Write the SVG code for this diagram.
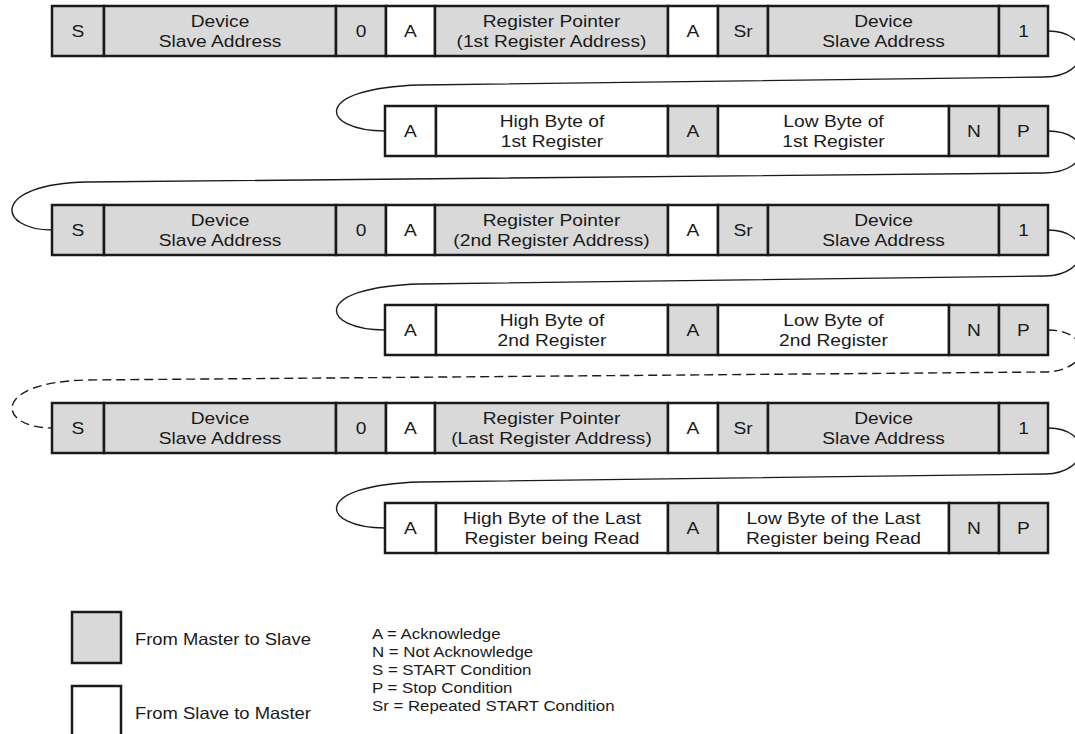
<svg xmlns="http://www.w3.org/2000/svg" width="1075" height="734" viewBox="0 0 1075 734">
<style>
.g{fill:#d9d9d9;stroke:#1a1a1a;stroke-width:2.5}
.w{fill:#ffffff;stroke:#1a1a1a;stroke-width:2.5}
text{font-family:"Liberation Sans",Arial,sans-serif;font-size:17px;fill:#1a1a1a;text-anchor:middle}
.lg{font-size:16.3px;text-anchor:start}
.ls{font-size:14.9px;text-anchor:start}
.c{fill:none;stroke:#1a1a1a;stroke-width:1.4}
.d{stroke-dasharray:9 5}
</style>
<rect width="1075" height="734" fill="#ffffff"/>
<g id="connectors">
<path class="c" d="M1048,31 C1092,31 1092,76 1045,77 L420,85 C310,88 320,131 385,131"/>
<path class="c" d="M1048,131 C1092,131 1092,172 1045,173 L87,182 C-10,184 -3,230 52,230"/>
<path class="c" d="M1048,230 C1092,230 1092,275 1045,276 L420,284 C310,287 320,330 385,330"/>
<path class="c d" d="M1048,330 C1092,330 1092,371 1045,372 L87,380 C-10,382 -3,428 52,428"/>
<path class="c" d="M1048,428 C1092,428 1092,473 1045,474 L420,482 C310,485 320,528 385,528"/>
</g>
<!-- Row 1 -->
<g id="r1-s"><rect class="g" x="52" y="6" width="52" height="50"/><text transform="matrix(1.13 0 0 1 78 0)" y="37.5">S</text></g>
<g id="r1-addr"><rect class="g" x="104" y="6" width="232" height="50"/><text transform="matrix(1.13 0 0 1 220 0)"><tspan x="0" y="26.7">Device</tspan><tspan x="0" y="47.3">Slave Address</tspan></text></g>
<g id="r1-w0"><rect class="g" x="336" y="6" width="50" height="50"/><text transform="matrix(1.13 0 0 1 361 0)" y="37.5">0</text></g>
<g id="r1-a1"><rect class="w" x="386" y="6" width="49" height="50"/><text transform="matrix(1.13 0 0 1 410.5 0)" y="37.5">A</text></g>
<g id="r1-ptr"><rect class="g" x="435" y="6" width="233" height="50"/><text transform="matrix(1.13 0 0 1 551.5 0)"><tspan x="0" y="26.7">Register Pointer</tspan><tspan x="0" y="47.3">(1st Register Address)</tspan></text></g>
<g id="r1-a2"><rect class="w" x="668" y="6" width="50" height="50"/><text transform="matrix(1.13 0 0 1 693 0)" y="37.5">A</text></g>
<g id="r1-sr"><rect class="g" x="718" y="6" width="50" height="50"/><text transform="matrix(1.13 0 0 1 743 0)" y="37.5">Sr</text></g>
<g id="r1-addr2"><rect class="g" x="768" y="6" width="231" height="50"/><text transform="matrix(1.13 0 0 1 883.5 0)"><tspan x="0" y="26.7">Device</tspan><tspan x="0" y="47.3">Slave Address</tspan></text></g>
<g id="r1-r1"><rect class="g" x="999" y="6" width="49" height="50"/><text transform="matrix(1.13 0 0 1 1023.5 0)" y="37.5">1</text></g>
<!-- Row 2 -->
<g id="r2-a"><rect class="w" x="385" y="106" width="51" height="50"/><text transform="matrix(1.13 0 0 1 410.5 0)" y="137.5">A</text></g>
<g id="r2-hi"><rect class="w" x="436" y="106" width="232" height="50"/><text transform="matrix(1.13 0 0 1 552 0)"><tspan x="0" y="126.7">High Byte of</tspan><tspan x="0" y="147.3">1st Register</tspan></text></g>
<g id="r2-am"><rect class="g" x="668" y="106" width="50" height="50"/><text transform="matrix(1.13 0 0 1 693 0)" y="137.5">A</text></g>
<g id="r2-lo"><rect class="w" x="718" y="106" width="231" height="50"/><text transform="matrix(1.13 0 0 1 833.5 0)"><tspan x="0" y="126.7">Low Byte of</tspan><tspan x="0" y="147.3">1st Register</tspan></text></g>
<g id="r2-n"><rect class="g" x="949" y="106" width="50" height="50"/><text transform="matrix(1.13 0 0 1 974 0)" y="137.5">N</text></g>
<g id="r2-p"><rect class="g" x="999" y="106" width="49" height="50"/><text transform="matrix(1.13 0 0 1 1023.5 0)" y="137.5">P</text></g>
<!-- Row 3 -->
<g id="r3-s"><rect class="g" x="52" y="205" width="52" height="50"/><text transform="matrix(1.13 0 0 1 78 0)" y="236.5">S</text></g>
<g id="r3-addr"><rect class="g" x="104" y="205" width="232" height="50"/><text transform="matrix(1.13 0 0 1 220 0)"><tspan x="0" y="225.7">Device</tspan><tspan x="0" y="246.3">Slave Address</tspan></text></g>
<g id="r3-w0"><rect class="g" x="336" y="205" width="50" height="50"/><text transform="matrix(1.13 0 0 1 361 0)" y="236.5">0</text></g>
<g id="r3-a1"><rect class="w" x="386" y="205" width="49" height="50"/><text transform="matrix(1.13 0 0 1 410.5 0)" y="236.5">A</text></g>
<g id="r3-ptr"><rect class="g" x="435" y="205" width="233" height="50"/><text transform="matrix(1.13 0 0 1 551.5 0)"><tspan x="0" y="225.7">Register Pointer</tspan><tspan x="0" y="246.3">(2nd Register Address)</tspan></text></g>
<g id="r3-a2"><rect class="w" x="668" y="205" width="50" height="50"/><text transform="matrix(1.13 0 0 1 693 0)" y="236.5">A</text></g>
<g id="r3-sr"><rect class="g" x="718" y="205" width="50" height="50"/><text transform="matrix(1.13 0 0 1 743 0)" y="236.5">Sr</text></g>
<g id="r3-addr2"><rect class="g" x="768" y="205" width="231" height="50"/><text transform="matrix(1.13 0 0 1 883.5 0)"><tspan x="0" y="225.7">Device</tspan><tspan x="0" y="246.3">Slave Address</tspan></text></g>
<g id="r3-r1"><rect class="g" x="999" y="205" width="49" height="50"/><text transform="matrix(1.13 0 0 1 1023.5 0)" y="236.5">1</text></g>
<!-- Row 4 -->
<g id="r4-a"><rect class="w" x="385" y="305" width="51" height="50"/><text transform="matrix(1.13 0 0 1 410.5 0)" y="336.5">A</text></g>
<g id="r4-hi"><rect class="w" x="436" y="305" width="232" height="50"/><text transform="matrix(1.13 0 0 1 552 0)"><tspan x="0" y="325.7">High Byte of</tspan><tspan x="0" y="346.3">2nd Register</tspan></text></g>
<g id="r4-am"><rect class="g" x="668" y="305" width="50" height="50"/><text transform="matrix(1.13 0 0 1 693 0)" y="336.5">A</text></g>
<g id="r4-lo"><rect class="w" x="718" y="305" width="231" height="50"/><text transform="matrix(1.13 0 0 1 833.5 0)"><tspan x="0" y="325.7">Low Byte of</tspan><tspan x="0" y="346.3">2nd Register</tspan></text></g>
<g id="r4-n"><rect class="g" x="949" y="305" width="50" height="50"/><text transform="matrix(1.13 0 0 1 974 0)" y="336.5">N</text></g>
<g id="r4-p"><rect class="g" x="999" y="305" width="49" height="50"/><text transform="matrix(1.13 0 0 1 1023.5 0)" y="336.5">P</text></g>
<!-- Row 5 -->
<g id="r5-s"><rect class="g" x="52" y="403" width="52" height="50"/><text transform="matrix(1.13 0 0 1 78 0)" y="434.5">S</text></g>
<g id="r5-addr"><rect class="g" x="104" y="403" width="232" height="50"/><text transform="matrix(1.13 0 0 1 220 0)"><tspan x="0" y="423.7">Device</tspan><tspan x="0" y="444.3">Slave Address</tspan></text></g>
<g id="r5-w0"><rect class="g" x="336" y="403" width="50" height="50"/><text transform="matrix(1.13 0 0 1 361 0)" y="434.5">0</text></g>
<g id="r5-a1"><rect class="w" x="386" y="403" width="49" height="50"/><text transform="matrix(1.13 0 0 1 410.5 0)" y="434.5">A</text></g>
<g id="r5-ptr"><rect class="g" x="435" y="403" width="233" height="50"/><text transform="matrix(1.13 0 0 1 551.5 0)"><tspan x="0" y="423.7">Register Pointer</tspan><tspan x="0" y="444.3">(Last Register Address)</tspan></text></g>
<g id="r5-a2"><rect class="w" x="668" y="403" width="50" height="50"/><text transform="matrix(1.13 0 0 1 693 0)" y="434.5">A</text></g>
<g id="r5-sr"><rect class="g" x="718" y="403" width="50" height="50"/><text transform="matrix(1.13 0 0 1 743 0)" y="434.5">Sr</text></g>
<g id="r5-addr2"><rect class="g" x="768" y="403" width="231" height="50"/><text transform="matrix(1.13 0 0 1 883.5 0)"><tspan x="0" y="423.7">Device</tspan><tspan x="0" y="444.3">Slave Address</tspan></text></g>
<g id="r5-r1"><rect class="g" x="999" y="403" width="49" height="50"/><text transform="matrix(1.13 0 0 1 1023.5 0)" y="434.5">1</text></g>
<!-- Row 6 -->
<g id="r6-a"><rect class="w" x="385" y="503" width="51" height="50"/><text transform="matrix(1.13 0 0 1 410.5 0)" y="534.5">A</text></g>
<g id="r6-hi"><rect class="w" x="436" y="503" width="232" height="50"/><text transform="matrix(1.13 0 0 1 552 0)"><tspan x="0" y="523.7">High Byte of the Last</tspan><tspan x="0" y="544.3">Register being Read</tspan></text></g>
<g id="r6-am"><rect class="g" x="668" y="503" width="50" height="50"/><text transform="matrix(1.13 0 0 1 693 0)" y="534.5">A</text></g>
<g id="r6-lo"><rect class="w" x="718" y="503" width="231" height="50"/><text transform="matrix(1.13 0 0 1 833.5 0)"><tspan x="0" y="523.7">Low Byte of the Last</tspan><tspan x="0" y="544.3">Register being Read</tspan></text></g>
<g id="r6-n"><rect class="g" x="949" y="503" width="50" height="50"/><text transform="matrix(1.13 0 0 1 974 0)" y="534.5">N</text></g>
<g id="r6-p"><rect class="g" x="999" y="503" width="49" height="50"/><text transform="matrix(1.13 0 0 1 1023.5 0)" y="534.5">P</text></g>
<!-- Legend -->
<g id="legend-master"><rect class="g" x="72" y="612" width="49" height="51"/><text class="lg" transform="matrix(1.13 0 0 1 135 0)" y="645">From Master to Slave</text></g>
<g id="legend-slave"><rect class="w" x="72" y="686" width="49" height="60"/><text class="lg" transform="matrix(1.13 0 0 1 135 0)" y="719">From Slave to Master</text></g>
<g id="legend-abbr">
<text class="ls" transform="matrix(1.13 0 0 1 372 0)"><tspan x="0" y="639">A = Acknowledge</tspan><tspan x="0" y="657">N = Not Acknowledge</tspan><tspan x="0" y="675">S = START Condition</tspan><tspan x="0" y="693">P = Stop Condition</tspan><tspan x="0" y="711">Sr = Repeated START Condition</tspan></text>
</g>
</svg>
